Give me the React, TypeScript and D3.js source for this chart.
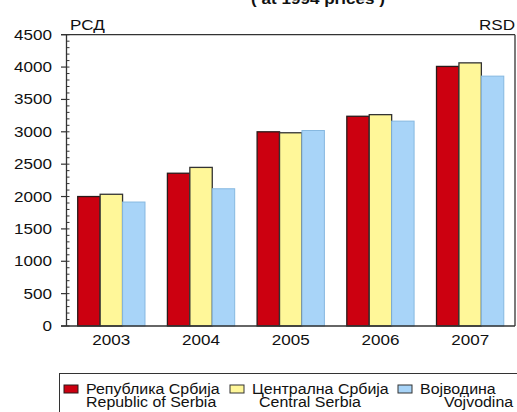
import React from "react";
import * as d3 from "d3";

const years = ["2003", "2004", "2005", "2006", "2007"];
const serbia = [2000, 2360, 3000, 3240, 4010];
const central = [2035, 2450, 2985, 3265, 4065];
const vojvodina = [1915, 2120, 3020, 3165, 3860];
const yTicks = [0, 500, 1000, 1500, 2000, 2500, 3000, 3500, 4000, 4500];

const series = [
    { key: "rs", values: serbia, fill: "#cc0010", stroke: "#2a1a1a", sr: "Република Србија", en: "Republic of Serbia", enDx: 0 },
    { key: "cs", values: central, fill: "#fff799", stroke: "#333333", sr: "Централна Србија", en: "Central Serbia", enDx: 7 },
    { key: "vo", values: vojvodina, fill: "#a8d4f8", stroke: "#86b8e0", sr: "Војводина", en: "Vojvodina", enDx: 24 },
];

const font = "'Liberation Sans', Arial, sans-serif";
const sx = 1.22; // source image is stretched horizontally

const App: React.FC = () => {
    const width = 517;
    const height = 412;
    const left = 66.5;
    const right = 515;
    const top = 34.7;
    const bottom = 326;

    const x = d3.scaleBand<string>().domain(years).range([left, right]).paddingInner(0.25).paddingOuter(0.125);
    const xs = d3.scaleBand<string>().domain(series.map((s) => s.key)).range([0, x.bandwidth()]);
    const y = d3.scaleLinear().domain([0, 4500]).range([bottom, top]);
    const minor = d3.range(0, 4501, 100);

    const txt = (tx: number, ty: number, s: string, anchor: string, size = 14, weight = "normal") => (
        <text
            transform={`translate(${tx},${ty}) scale(${sx},1)`}
            textAnchor={anchor}
            fontSize={size}
            fontWeight={weight}
            fontFamily={font}
            fill="#111"
        >
            {s}
        </text>
    );

    const legendX = [64, 230, 398];

    return (
        <svg width={width} height={height} style={{ position: "absolute", left: 0, top: 0, background: "#fff" }}>
            {txt(318, 3.5, "( at 1994 prices )", "middle", 14, "bold")}
            {txt(70, 30, "РСД", "start")}
            {txt(515, 30, "RSD", "end")}

            {years.map((yr) =>
                series.map((s, j) => (
                    <rect
                        key={yr + s.key}
                        x={(x(yr) ?? 0) + (xs(s.key) ?? 0)}
                        y={y(s.values[years.indexOf(yr)])}
                        width={xs.bandwidth()}
                        height={bottom - y(s.values[years.indexOf(yr)])}
                        fill={s.fill}
                        stroke={s.stroke}
                        strokeWidth={j === 2 ? 1 : 1.3}
                    />
                ))
            )}

            {/* frame */}
            <line x1={61} x2={right} y1={top} y2={top} stroke="#333" strokeWidth={1.3} />
            <line x1={right} x2={right} y1={top} y2={bottom} stroke="#333" strokeWidth={1.3} />
            <line x1={61} x2={right} y1={bottom} y2={bottom} stroke="#333" strokeWidth={1.3} />
            <line x1={left} x2={left} y1={top} y2={bottom} stroke="#333" strokeWidth={1.3} />

            {minor.map((v) => (
                <line key={"m" + v} x1={left} x2={left + 3} y1={y(v)} y2={y(v)} stroke="#333" strokeWidth={1} />
            ))}
            {yTicks.map((v) => (
                <g key={"t" + v}>
                    <line x1={61} x2={left} y1={y(v)} y2={y(v)} stroke="#333" strokeWidth={1.2} />
                    {txt(52, y(v) + 5, String(v), "end")}
                </g>
            ))}
            {years.map((yr) => (
                <g key={"x" + yr}>{txt((x(yr) ?? 0) + x.bandwidth() / 2, 345, yr, "middle")}</g>
            ))}

            {/* legend */}
            <rect x={59.5} y={373.5} width={470} height={50} fill="#fff" stroke="#333" strokeWidth={1} />
            {series.map((s, i) => (
                <g key={"l" + s.key}>
                    <rect x={legendX[i]} y={385} width={14} height={8} fill={s.fill} stroke={s.stroke === "#86b8e0" ? "#333" : s.stroke} strokeWidth={1} />
                    <text
                        transform={`translate(${legendX[i] + 22},394) scale(1.1,1)`}
                        fontSize={14.5}
                        fontFamily={font}
                        fill="#111"
                    >
                        {s.sr}
                    </text>
                    <text
                        transform={`translate(${legendX[i] + 22 + s.enDx},407) scale(1.1,1)`}
                        fontSize={14.5}
                        fontFamily={font}
                        fill="#111"
                    >
                        {s.en}
                    </text>
                </g>
            ))}
        </svg>
    );
};

export default App;
